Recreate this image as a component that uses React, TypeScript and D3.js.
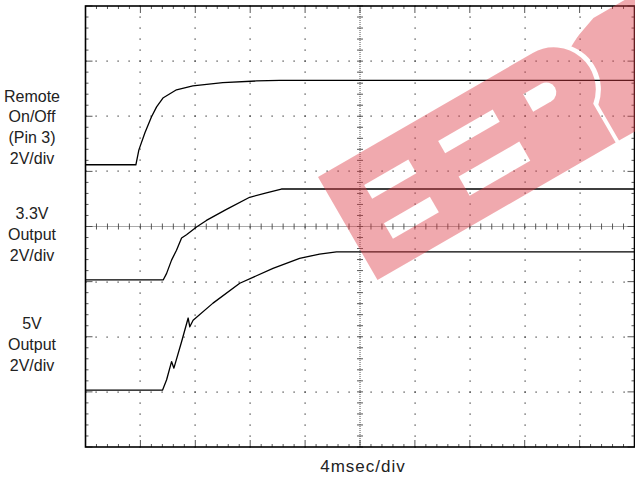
import React from 'react';
import * as d3 from 'd3';

// ---- data (time in ms, level in graticule divisions from the bottom) ----
const remoteT = [0, 3.67, 3.89, 4.33, 4.81, 5.18, 5.64, 6.63, 7.82, 10.0, 12.45, 14.15, 40];
const remoteV = [5.12, 5.12, 5.39, 5.70, 5.99, 6.17, 6.33, 6.48, 6.55, 6.61, 6.64, 6.65, 6.65];

const out33T = [0, 5.66, 5.91, 6.27, 6.63, 7.0, 7.36, 8.09, 8.81, 10.27, 11.96, 13.18, 14.27, 40];
const out33V = [3.03, 3.03, 3.15, 3.39, 3.57, 3.79, 3.85, 3.99, 4.11, 4.31, 4.53, 4.61, 4.68, 4.68];

const out5T = [0, 5.61, 5.91, 6.27, 6.44, 7.0, 7.48, 7.6, 7.84, 9.29, 11.24, 13.66, 15.6, 17.05, 18.29, 40];
const out5V = [1.03, 1.03, 1.22, 1.55, 1.43, 1.91, 2.34, 2.18, 2.30, 2.61, 2.97, 3.24, 3.42, 3.50, 3.54, 3.54];

const remoteLabel = ['Remote', 'On/Off', '(Pin 3)', '2V/div'];
const out33Label = ['3.3V', 'Output', '2V/div'];
const out5Label = ['5V', 'Output', '2V/div'];
const timeLabel = '4msec/div';

const xDivs = 10;
const yDivs = 8;
const msPerDiv = 4;
const minorPerDiv = 5;

// ---- layout ----
const W = 635, H = 480;
const X0 = 85.5, X1 = 634.5, Y0 = 6, Y1 = 447;
const FONT = "'Liberation Sans', Arial, Helvetica, sans-serif";

export default function App() {
  const x = d3.scaleLinear().domain([0, xDivs * msPerDiv]).range([X0, X1]);
  const y = d3.scaleLinear().domain([0, yDivs]).range([Y1, Y0]);

  const minorX = d3.range(0, xDivs * minorPerDiv + 1).map(i => (i * msPerDiv) / minorPerDiv);
  const minorY = d3.range(0, yDivs * minorPerDiv + 1).map(i => i / minorPerDiv);
  const majorX = d3.range(1, xDivs).map(i => i * msPerDiv).filter(v => v !== (xDivs / 2) * msPerDiv);
  const majorY = d3.range(1, yDivs).filter(v => v !== yDivs / 2);
  const cx = x((xDivs / 2) * msPerDiv);
  const cy = y(yDivs / 2);

  const line = d3.line<[number, number]>().x(d => x(d[0])).y(d => y(d[1]));
  const traces = [
    d3.zip(remoteT, remoteV) as [number, number][],
    d3.zip(out33T, out33V) as [number, number][],
    d3.zip(out5T, out5V) as [number, number][],
  ];

  const dots: JSX.Element[] = [];
  majorX.forEach(mx => minorY.forEach(my => {
    dots.push(<rect key={`vx${mx}-${my}`} x={Math.round(x(mx)) - 0.5} y={Math.round(y(my)) - 0.5} width={1.2} height={1.2} fill="#333" />);
  }));
  majorY.forEach(my => minorX.forEach(mx => {
    dots.push(<rect key={`hy${my}-${mx}`} x={Math.round(x(mx)) - 0.5} y={Math.round(y(my)) - 0.5} width={1.2} height={1.2} fill="#333" />);
  }));

  const ticks: JSX.Element[] = [];
  minorX.forEach((mx, i) => {
    const len = i % minorPerDiv === 0 ? 7 : 3;
    const px = x(mx);
    ticks.push(<line key={`tt${i}`} x1={px} x2={px} y1={Y0} y2={Y0 + len} />);
    ticks.push(<line key={`tb${i}`} x1={px} x2={px} y1={Y1} y2={Y1 - len} />);
    ticks.push(<line key={`tc${i}`} x1={px} x2={px} y1={cy - 3} y2={cy + 3} />);
  });
  minorY.forEach((my, i) => {
    const len = i % minorPerDiv === 0 ? 7 : 3;
    const py = y(my);
    ticks.push(<line key={`tl${i}`} x1={X0} x2={X0 + len} y1={py} y2={py} />);
    ticks.push(<line key={`tr${i}`} x1={X1} x2={X1 - len} y1={py} y2={py} />);
    ticks.push(<line key={`tv${i}`} x1={cx - 3} x2={cx + 3} y1={py} y2={py} />);
  });

  const labelBlock = (lines: string[], firstBaseline: number, step: number, key: string) => (
    <text key={key} x={32} y={firstBaseline} textAnchor="middle" fontFamily={FONT} fontSize={16} fill="#222">
      {lines.map((l, i) => (
        <tspan key={i} x={32} y={firstBaseline + i * step}>{l}</tspan>
      ))}
    </text>
  );

  // watermark geometry (in the band's own rotated frame)
  const pr = 42, pcx = 248, pcy = 42;
  const pol = (r: number, deg: number) => [pcx + r * Math.cos((deg * Math.PI) / 180), pcy + r * Math.sin((deg * Math.PI) / 180)];
  const [b1x, b1y] = pol(pr, 50);
  const [o1x, o1y] = pol(pr + 4.5, 50);
  const [o2x, o2y] = pol(pr + 4.5, -40);
  const bandPath = `M0,0 H${pcx} A${pr},${pr} 0 0 1 ${b1x},${b1y} L${b1x},119 L0,119 Z`;
  const rightPath = `M318,0 L440,0 L440,119 L${o1x + 1},119 L${o1x + 1},${o1y} A${pr + 4.5},${pr + 4.5} 0 0 0 ${o2x},${o2y} Z`;

  return (
    <svg width={W} height={H} style={{ position: 'absolute', left: 0, top: 0, display: 'block', background: '#fff' }}>
      <rect x={0} y={0} width={W} height={H} fill="#fff" />
      <g>{dots}</g>
      <line x1={X0} x2={X1} y1={cy} y2={cy} stroke="#555" strokeWidth={1} strokeDasharray="1,1" />
      <line x1={cx} x2={cx} y1={Y0} y2={Y1} stroke="#555" strokeWidth={1} strokeDasharray="1,1" />
      <g stroke="#444" strokeWidth={0.9}>{ticks}</g>
      <rect x={X0} y={Y0} width={X1 - X0} height={Y1 - Y0} fill="none" stroke="#000" strokeWidth={1.6} />

      {traces.map((t, i) => (
        <path key={i} d={line(t) || ''} fill="none" stroke="#000" strokeWidth={1.3} strokeLinejoin="round" />
      ))}

      {labelBlock(remoteLabel, 101.5, 20.8, 'l1')}
      {labelBlock(out33Label, 219, 21, 'l2')}
      {labelBlock(out5Label, 329, 20.8, 'l3')}
      <text x={cx + 3} y={472} textAnchor="middle" fontFamily={FONT} fontSize={17} letterSpacing={1} fill="#222">{timeLabel}</text>

      <g transform="translate(318,177) rotate(-30)">
        <defs>
          <mask id="wm" maskUnits="userSpaceOnUse" x={-20} y={-20} width={500} height={170}>
            <path d={bandPath} fill="#fff" />
            <path d={rightPath} fill="#fff" />
            <rect x={36} y={30} width={51} height={16} fill="#000" />
            <rect x={34} y={73} width={53} height={18} fill="#000" />
            <rect x={122} y={29} width={63} height={14} fill="#000" />
            <rect x={122} y={70} width={70} height={22} fill="#000" />
            <path d="M219,31 H240 A10,10 0 0 1 240,51 H219 Z" fill="#000" />
            <path d={`M262,-5 L320,-5 L${o2x},${o2y + 2} Z`} fill="#000" />
          </mask>
        </defs>
        <rect x={-10} y={-10} width={480} height={140} fill="rgb(222,62,72)" opacity={0.44} mask="url(#wm)" />
      </g>
    </svg>
  );
}
